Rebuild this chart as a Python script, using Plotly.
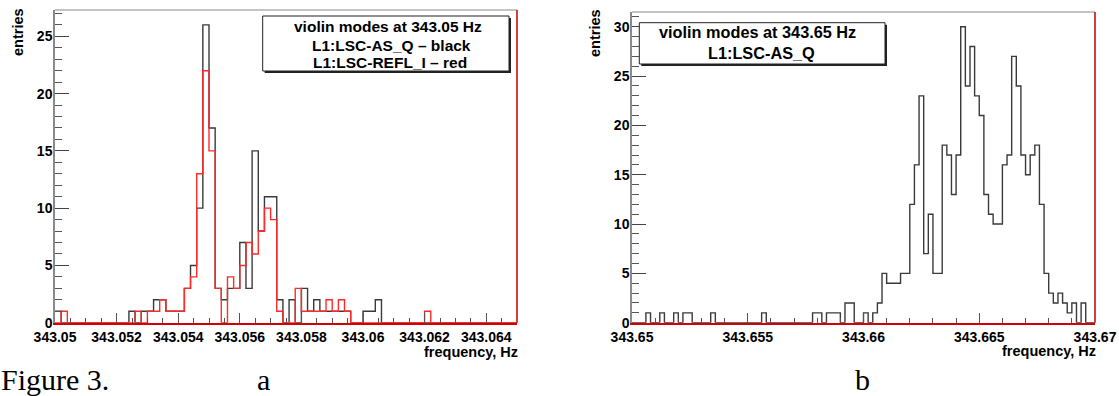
import plotly.graph_objects as go

W, H = 1119, 396

# ---------------- data ----------------
left_start = 343.05
left_binw = 0.0002
left_black = [1, 0, 0, 0, 0, 0, 0, 0, 0, 0, 0, 0, 1, 0, 1, 1, 2, 2, 1, 1,
              1, 3, 5, 10, 26, 17, 3, 2, 3, 3, 7, 3, 15, 8, 11, 11, 2, 0, 2, 0,
              3, 1, 2, 1, 1, 1, 1, 1, 0, 0, 1, 1, 2, 0, 0, 0, 0, 0, 0, 0,
              0, 0, 0, 0, 0, 0, 0, 0, 0, 0, 0, 0, 0, 0, 0]
left_red = [0, 1, 0, 0, 0, 0, 0, 0, 0, 0, 0, 0, 0, 1, 0, 1, 1, 2, 1, 1,
            1, 3, 4, 13, 22, 15, 3, 0, 4, 3, 5, 7, 6, 8, 10, 9, 1, 0, 0, 3,
            1, 1, 1, 1, 2, 1, 2, 1, 0, 0, 0, 0, 0, 0, 0, 0, 0, 0, 0, 0,
            1, 0, 0, 0, 0, 0, 0, 0, 0, 0, 0, 0, 0, 0, 0]

right_start = 343.65
right_binw = 0.0002
right_counts = [0, 0, 0, 1, 0, 0, 1, 0, 0, 1, 0, 1, 1, 0, 0, 0, 0, 1, 0, 0,
                0, 0, 0, 0, 0, 0, 0, 0, 1, 0, 0, 0, 0, 0, 0, 0, 0, 0, 0, 1,
                1, 0, 1, 1, 1, 0, 2, 2, 0, 0, 1, 0, 1, 2, 5, 4, 4, 4, 5, 5,
                12, 16, 23, 7, 11, 5, 5, 18, 17, 13, 17, 30, 24, 28, 23, 21, 13, 11, 10, 10,
                16, 17, 27, 24, 17, 15, 17, 18, 12, 5, 3, 2, 3, 2, 1, 2, 0, 2, 0, 0]

left_xrange = [343.05, 343.065]
right_xrange = [343.65, 343.67]
left_yrange = [0, 27.3]
right_yrange = [0, 31.5]

left_legend = ["violin modes at 343.05 Hz", "L1:LSC-AS_Q \u2013 black", "L1:LSC-REFL_I \u2013 red"]
right_legend = ["violin modes at 343.65 Hz", "L1:LSC-AS_Q"]
x_title = "frequency, Hz"
y_title = "entries"
caption = "Figure 3."
panel_labels = ["a", "b"]


def steps(start, w, counts):
    xs = [start + i * w for i in range(len(counts) + 1)]
    ys = list(counts) + [counts[-1]]
    return xs, ys


def px(x):
    return x / W


def py(y):
    return 1 - y / H


BLACK = "#3a3a3a"
RED = "#ff2a2a"
FONT = "Liberation Sans, Arial, sans-serif"

fig = go.Figure()
xb, yb = steps(left_start, left_binw, left_black)
fig.add_trace(go.Scatter(x=xb, y=yb, mode="lines", line=dict(color=BLACK, width=1.4, shape="hv"),
                         xaxis="x", yaxis="y", hoverinfo="skip"))
xr, yr = steps(left_start, left_binw, left_red)
fig.add_trace(go.Scatter(x=xr, y=yr, mode="lines", line=dict(color=RED, width=1.4, shape="hv"),
                         xaxis="x", yaxis="y", hoverinfo="skip"))
x2, y2 = steps(right_start, right_binw, right_counts)
fig.add_trace(go.Scatter(x=x2, y=y2, mode="lines", line=dict(color=BLACK, width=1.4, shape="hv"),
                         xaxis="x2", yaxis="y2", hoverinfo="skip"))

tickfont = dict(family=FONT, size=14, color="black", weight="bold")

common_y = dict(showgrid=False, zeroline=False, showline=True, linecolor="#8a8a8a", linewidth=1.5,
                ticks="inside", ticklen=14, tickwidth=1.2, tickcolor="#444", dtick=5, tick0=0,
                minor=dict(ticks="inside", dtick=1, ticklen=7, tickwidth=1.2, tickcolor="#555"),
                tickfont=tickfont, fixedrange=True, automargin=False, ticklabelstandoff=-2)
common_x = dict(showgrid=False, zeroline=False, showline=True, linecolor="#d40000", linewidth=1.5,
                ticks="inside", ticklen=10, tickwidth=1.2, tickcolor="#555", tickformat=".3~f",
                tickfont=tickfont, fixedrange=True, automargin=False, ticklabelstandoff=1)

fig.update_layout(
    width=W, height=H, margin=dict(l=0, r=0, t=0, b=0, autoexpand=False),
    paper_bgcolor="white", plot_bgcolor="white", showlegend=False,
    xaxis=dict(common_x, domain=[px(55), px(517)], range=left_xrange, anchor="y",
               tick0=343.05, dtick=0.002,
               minor=dict(ticks="inside", dtick=0.0005, tick0=343.05, ticklen=5, tickwidth=1.2, tickcolor="#555")),
    yaxis=dict(common_y, domain=[py(322.7), py(10)], range=left_yrange, anchor="x"),
    xaxis2=dict(common_x, domain=[px(632), px(1095)], range=right_xrange, anchor="y2",
                tick0=343.65, dtick=0.005,
                minor=dict(ticks="inside", dtick=0.001, tick0=343.65, ticklen=5, tickwidth=1.2, tickcolor="#555")),
    yaxis2=dict(common_y, domain=[py(322.7), py(12)], range=right_yrange, anchor="x2"),
)

shapes = []
for xa, ya in (("x", "y"), ("x2", "y2")):
    shapes.append(dict(type="line", xref=f"{xa} domain", yref=f"{ya} domain", x0=0, x1=1, y0=1, y1=1,
                       line=dict(color="#c4c4c4", width=2)))
    shapes.append(dict(type="line", xref=f"{xa} domain", yref=f"{ya} domain", x0=1, x1=1, y0=0, y1=1,
                       line=dict(color="#c00000", width=1.5)))


def pave(x0, y0, x1, y1):
    # shadow then box
    shapes.append(dict(type="rect", xref="paper", yref="paper", x0=px(x0 + 2), x1=px(x1 + 2),
                       y0=py(y1 + 2), y1=py(y0 + 2), fillcolor="#222", line=dict(width=0)))
    shapes.append(dict(type="rect", xref="paper", yref="paper", x0=px(x0), x1=px(x1),
                       y0=py(y1), y1=py(y0), fillcolor="white", line=dict(color="#222", width=1)))


pave(262.7, 16, 509, 71)
pave(639.3, 22.7, 885, 64)
fig.update_layout(shapes=shapes)

ann = []


def txt(s, x, y, size, xanchor="center", yanchor="middle", angle=0, family=FONT, bold=True):
    ann.append(dict(text=f"<b>{s}</b>" if bold else s, x=px(x), y=py(y), xref="paper", yref="paper",
                    xanchor=xanchor, yanchor=yanchor, showarrow=False, textangle=angle,
                    font=dict(family=family, size=size, color="black")))


for s, cx, cy in zip(left_legend, [387.7, 391.7, 390], [27, 45, 63]):
    txt(s, cx, cy, 15.5)
for s, cx, cy in zip(right_legend, [757.5, 761.7], [32.3, 53.3]):
    txt(s, cx, cy, 16.3)

txt(y_title, 18, 6, 14.5, yanchor="top", angle=-90)
txt(y_title, 595, 7, 14.5, yanchor="top", angle=-90)
txt(x_title, 520, 352, 14.5, xanchor="right")
txt(x_title, 1098, 351, 14.5, xanchor="right")

serif = "Liberation Serif, Times New Roman, serif"
txt(caption, -1, 379, 30, xanchor="left", family=serif, bold=False)
txt(panel_labels[0], 263, 379, 30, family=serif, bold=False)
txt(panel_labels[1], 862, 379, 30, family=serif, bold=False)

fig.update_layout(annotations=ann)
fig.write_html("out.html", config={"displayModeBar": False},
               post_script="document.body.style.margin='0';document.body.style.overflow='hidden';")
